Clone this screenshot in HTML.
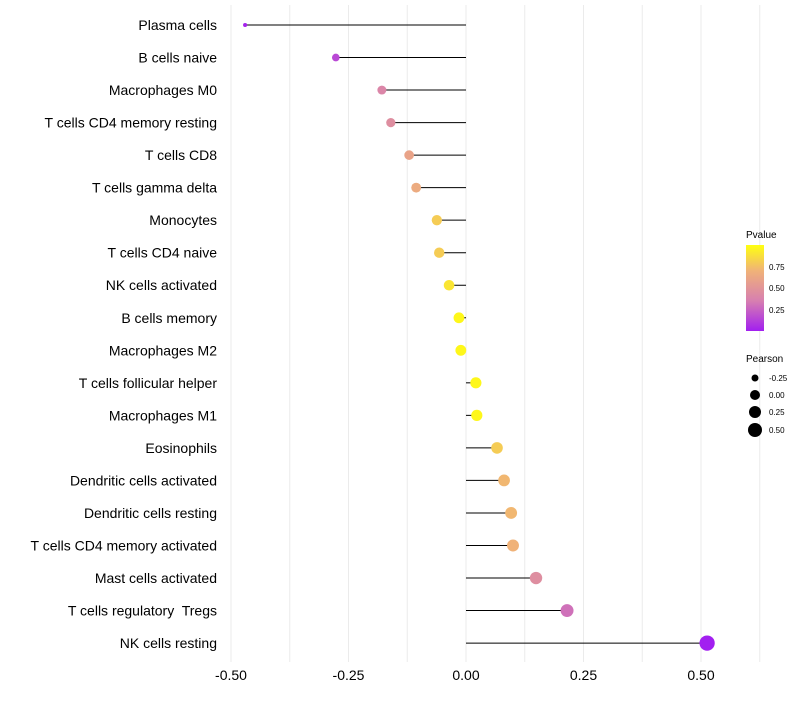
<!DOCTYPE html>
<html><head><meta charset="utf-8"><style>
body{margin:0;background:#fff;font-family:"Liberation Sans",sans-serif}
text{white-space:pre}
</style></head><body>
<svg id="chart" width="800" height="700" xmlns="http://www.w3.org/2000/svg">
<defs><linearGradient id="pg" x1="0" y1="1" x2="0" y2="0">
<stop offset="0" stop-color="#a21ff0"/><stop offset="0.35" stop-color="#d77fb0"/><stop offset="0.7" stop-color="#f0b278"/><stop offset="1" stop-color="#ffff10"/></linearGradient></defs>
<g id="grid"></g><g id="marks"></g><g id="labels"></g>
<g font-size="10" fill="#000">
<text x="746" y="238">Pvalue</text>
<rect x="746" y="245" width="18" height="86" fill="url(#pg)"/>
<text x="769" y="270" font-size="8">0.75</text>
<text x="769" y="291" font-size="8">0.50</text>
<text x="769" y="313" font-size="8">0.25</text>
<text x="746" y="362">Pearson</text>
<circle cx="755" cy="378" r="3.5"/>
<circle cx="755" cy="395" r="5"/>
<circle cx="755" cy="412" r="6"/>
<circle cx="755" cy="430" r="7"/>
<text x="769" y="381" font-size="8">-0.25</text>
<text x="769" y="398" font-size="8">0.00</text>
<text x="769" y="415" font-size="8">0.25</text>
<text x="769" y="433" font-size="8">0.50</text>
</g>
</svg>
<script>
const categories=["Plasma cells","B cells naive","Macrophages M0","T cells CD4 memory resting","T cells CD8","T cells gamma delta","Monocytes","T cells CD4 naive","NK cells activated","B cells memory","Macrophages M2","T cells follicular helper","Macrophages M1","Eosinophils","Dendritic cells activated","Dendritic cells resting","T cells CD4 memory activated","Mast cells activated","T cells regulatory  Tregs","NK cells resting"];
const pearson=[-0.470,-0.277,-0.179,-0.160,-0.121,-0.106,-0.062,-0.057,-0.036,-0.015,-0.011,0.021,0.023,0.066,0.081,0.096,0.100,0.149,0.215,0.513];
const pvalues=[0.02,0.15,0.4,0.45,0.6,0.65,0.8,0.8,0.9,0.97,0.97,0.97,0.97,0.8,0.72,0.72,0.7,0.45,0.3,0.001];
const xTicks=[-0.5,-0.25,0,0.25,0.5];
const xTickLabels=["-0.50","-0.25","0.00","0.25","0.50"];
const NS="http://www.w3.org/2000/svg";
const xs=v=>466+v*470;
const ys=i=>25+i*32.53;
function mk(t,a,p){const e=document.createElementNS(NS,t);for(const k in a)e.setAttribute(k,a[k]);p.appendChild(e);return e;}
function lerp(a,b,t){return a.map((x,i)=>Math.round(x+(b[i]-x)*t));}
function col(p){const s=[[0,[162,31,240]],[0.35,[215,127,176]],[0.7,[240,178,120]],[1,[255,255,16]]];
for(let i=1;i<s.length;i++){if(p<=s[i][0]){const c=lerp(s[i-1][1],s[i][1],(p-s[i-1][0])/(s[i][0]-s[i-1][0]));return `rgb(${c})`;}}return "rgb(255,255,16)";}
const grid=document.getElementById('grid'),marks=document.getElementById('marks'),labels=document.getElementById('labels');
for(let v=-0.5;v<=0.626;v+=0.125){const g=mk('line',{x1:xs(v),x2:xs(v),y1:5,y2:662,stroke:'#ebebeb','stroke-width':1},grid);

}
xTicks.forEach((v,i)=>{const t=mk('text',{x:xs(v),y:680,'text-anchor':'middle','font-size':14,fill:'#000'},labels);t.textContent=xTickLabels[i];

});
categories.forEach((c,i)=>{const y=ys(i);
const t=mk('text',{x:217,y:y+5,'text-anchor':'end','font-size':14,fill:'#000'},labels);t.textContent=c;


const l=mk('line',{x1:xs(0),x2:xs(pearson[i]),y1:y,y2:y,stroke:'#000','stroke-width':1},marks);


const r=Math.sqrt(Math.max(2,30+55*pearson[i]));
const d=mk('circle',{cx:xs(pearson[i]),cy:y,r:r,fill:col(pvalues[i])},marks);

});
</script>
</body></html>
